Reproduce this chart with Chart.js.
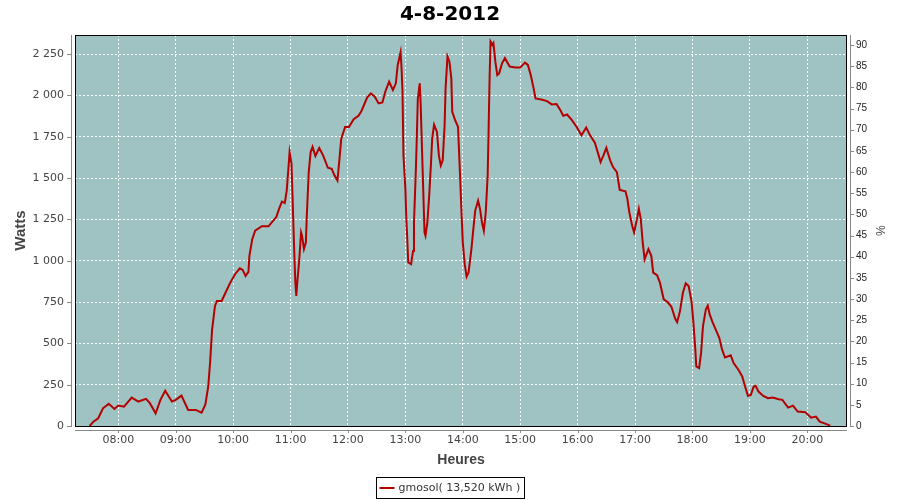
<!DOCTYPE html>
<html>
<head>
<meta charset="utf-8">
<title>4-8-2012</title>
<script src="https://cdn.jsdelivr.net/npm/chart.js@4.4.0/dist/chart.umd.min.js"></script>
<style>
  html, body { margin: 0; padding: 0; background: #fff; }
</style>
</head>
<body>
<canvas id="chart" width="900" height="500"></canvas>
<script>
const chartTitle = '4-8-2012';
const seriesName = 'gmosol( 13,520 kWh )';

// sample times, minutes since midnight
const minutes = [
  450, 454, 459, 464, 470, 476, 480, 486, 494, 501, 509, 513, 519, 524, 529, 536, 540, 546, 553, 561,
  567, 571, 574, 576, 578, 581, 583, 588, 592, 597, 602, 607, 610, 613, 616, 617, 620, 623, 630, 637,
  641, 645, 648, 651, 654, 656, 658, 659, 661, 662, 663, 664, 665, 666, 667, 669, 671, 672, 674, 676,
  677, 679, 681, 683, 686, 690, 694, 699, 703, 706, 709, 711, 713, 717, 721, 726, 731, 734, 740, 744,
  748, 752, 756, 759, 763, 767, 770, 772, 774, 775, 776, 777, 778, 780, 781, 782, 783, 786, 788, 789,
  791, 792, 793, 795, 796, 798, 799, 800, 801, 803, 805, 807, 808, 810, 813, 815, 817, 819, 821, 822,
  824, 826, 828, 829, 832, 835, 837, 839, 840, 842, 844, 846, 849, 851, 853, 856, 858, 860, 862, 864,
  866, 867, 868, 869, 871, 872, 874, 876, 878, 881, 884, 889, 895, 900, 905, 908, 911, 914, 916, 922,
  928, 933, 938, 942, 945, 949, 954, 959, 964, 969, 973, 978, 982, 984, 987, 990, 994, 997, 1001, 1004,
  1010, 1012, 1014, 1017, 1019, 1022, 1024, 1026, 1028, 1030, 1034, 1037, 1039, 1043, 1046, 1050, 1054, 1058, 1062, 1064,
  1067, 1070, 1073, 1076, 1079, 1081, 1083, 1084, 1087, 1089, 1091, 1094, 1096, 1098, 1101, 1104, 1108, 1111, 1114, 1120,
  1123, 1128, 1132, 1135, 1138, 1141, 1144, 1146, 1149, 1154, 1159, 1164, 1170, 1174, 1180, 1185, 1190, 1198, 1204, 1209,
  1213, 1218, 1224
];

const watts = [
  0, 26, 47, 107, 134, 103, 124, 117, 172, 148, 164, 138, 77, 158, 213, 148, 158, 184, 97, 97,
  81, 130, 239, 391, 583, 725, 756, 756, 806, 867, 918, 954, 944, 907, 932, 1029, 1130, 1181, 1208, 1208,
  1236, 1262, 1313, 1357, 1349, 1424, 1576, 1657, 1586, 1404, 1211, 1029, 867, 786, 867, 999, 1171, 1151, 1070, 1110,
  1272, 1536, 1657, 1688, 1633, 1682, 1637, 1562, 1556, 1515, 1485, 1607, 1738, 1809, 1809, 1856, 1876, 1904, 1986, 2012,
  1992, 1951, 1957, 2022, 2083, 2032, 2073, 2184, 2235, 2261, 2164, 2022, 1637, 1434, 1252, 1130, 989, 979, 1059, 1232,
  1556, 1758, 1981, 2073, 1941, 1556, 1363, 1171, 1151, 1232, 1404, 1617, 1738, 1823, 1779, 1637, 1576, 1607, 1819, 2042,
  2235, 2205, 2103, 1900, 1850, 1809, 1536, 1242, 1110, 979, 904, 928, 1070, 1191, 1303, 1363, 1313, 1232, 1181, 1293,
  1515, 1799, 2103, 2326, 2306, 2316, 2205, 2123, 2133, 2194, 2225, 2174, 2168, 2168, 2198, 2184, 2123, 2042, 1981, 1975,
  1965, 1945, 1947, 1910, 1876, 1884, 1850, 1809, 1758, 1805, 1758, 1714, 1637, 1597, 1637, 1682, 1607, 1566, 1536, 1428,
  1420, 1374, 1293, 1211, 1171, 1252, 1313, 1252, 1110, 1009, 1070, 1029, 928, 912, 867, 766, 750, 721, 648, 628,
  695, 806, 863, 847, 756, 624, 462, 360, 350, 442, 604, 705, 729, 675, 628, 588, 533, 462, 414, 427,
  381, 340, 300, 239, 182, 188, 239, 243, 208, 182, 168, 172, 162, 158, 111, 123, 87, 83, 50, 57,
  26, 16, 2
];

// axis ranges
const timeMin = 434.75, timeMax = 1241.5;
const wattsMax = 2365;
const percentMax = 92.37;

const tickFont = { family: 'DejaVu Sans', size: 11 };

function fmtTime(v) {
  const h = Math.floor(v / 60), m = Math.round(v % 60);
  return String(h).padStart(2, '0') + ':' + String(m).padStart(2, '0');
}

function fmtWatts(v) {
  if (v >= 1000) return Math.floor(v / 1000) + ' ' + String(v % 1000).padStart(3, '0');
  return String(v);
}

// plot background, outline and the offset grey axis lines
const plotFrame = {
  id: 'plotFrame',
  beforeDraw(chart) {
    const a = chart.chartArea, ctx = chart.ctx;
    ctx.save();
    ctx.fillStyle = '#9ec3c2';
    ctx.fillRect(a.left, a.top, a.right - a.left, a.bottom - a.top);
    ctx.restore();
  },
  afterDatasetsDraw(chart) {
    const a = chart.chartArea, ctx = chart.ctx;
    ctx.save();
    ctx.strokeStyle = '#000';
    ctx.lineWidth = 1;
    ctx.strokeRect(a.left + 0.5, a.top + 0.5, a.right - a.left - 1, a.bottom - a.top);

    ctx.strokeStyle = '#888';
    ctx.beginPath();
    // left axis
    ctx.moveTo(a.left - 3.5, a.top);
    ctx.lineTo(a.left - 3.5, a.bottom + 1);
    chart.scales.y.ticks.forEach(t => {
      const py = Math.round(chart.scales.y.getPixelForValue(t.value)) + 0.5;
      ctx.moveTo(a.left - 8, py);
      ctx.lineTo(a.left - 3.5, py);
    });
    // bottom axis
    ctx.moveTo(a.left, a.bottom + 4.5);
    ctx.lineTo(a.right, a.bottom + 4.5);
    chart.scales.x.ticks.forEach(t => {
      const px = Math.round(chart.scales.x.getPixelForValue(t.value)) + 0.5;
      ctx.moveTo(px, a.bottom + 4.5);
      ctx.lineTo(px, a.bottom + 7);
    });
    // right axis
    ctx.moveTo(a.right + 3.5, a.top);
    ctx.lineTo(a.right + 3.5, a.bottom + 1);
    chart.scales.pct.ticks.forEach(t => {
      const py = Math.round(chart.scales.pct.getPixelForValue(t.value)) + 0.5;
      ctx.moveTo(a.right + 3.5, py);
      ctx.lineTo(a.right + 7, py);
    });
    ctx.stroke();
    ctx.restore();
  },
  afterDraw(chart) {
    // boxed legend below the axis title
    const ctx = chart.ctx;
    const ds = chart.data.datasets[0];
    ctx.save();
    ctx.font = '11px "DejaVu Sans"';
    const textW = ctx.measureText(ds.label).width;
    const boxW = Math.round(3 + 15 + 4 + textW + 4);
    const boxX = Math.round(chart.width / 2 - boxW / 2) + 0.5;
    const boxY = 477.5, boxH = 21;
    ctx.fillStyle = '#fff';
    ctx.fillRect(boxX, boxY, boxW, boxH);
    ctx.strokeStyle = '#000';
    ctx.lineWidth = 1;
    ctx.strokeRect(boxX, boxY, boxW, boxH);
    ctx.strokeStyle = ds.borderColor;
    ctx.lineWidth = 2;
    ctx.beginPath();
    ctx.moveTo(boxX + 3, boxY + 10.5);
    ctx.lineTo(boxX + 18, boxY + 10.5);
    ctx.stroke();
    ctx.fillStyle = '#333';
    ctx.textBaseline = 'middle';
    ctx.fillText(ds.label, boxX + 22, boxY + 10.5);
    ctx.restore();
  }
};

const points = minutes.map((m, i) => ({ x: m, y: watts[i] }));

const ctx = document.getElementById('chart').getContext('2d');
const chart = new Chart(ctx, {
  type: 'line',
  data: {
    datasets: [{
      label: seriesName,
      data: points,
      borderColor: '#b40000',
      borderWidth: 2,
      pointRadius: 0,
      tension: 0,
      fill: false,
      yAxisID: 'y'
    }]
  },
  options: {
    responsive: false,
    animation: false,
    layout: { padding: { left: 0, right: 0, top: 0, bottom: 30 } },
    plugins: {
      legend: { display: false },
      tooltip: { enabled: false },
      title: {
        display: true,
        text: chartTitle,
        color: '#000',
        font: { family: 'DejaVu Sans', size: 20, weight: 'bold' },
        padding: { top: 3, bottom: 8 }
      }
    },
    scales: {
      x: {
        type: 'linear',
        position: 'bottom',
        min: timeMin,
        max: timeMax,
        afterFit: s => { s.height = 44; },
        grid: { color: '#ffffff', lineWidth: 1, drawTicks: false },
        border: { display: false, dash: [2, 2] },
        ticks: {
          stepSize: 60,
          includeBounds: false,
          autoSkip: false,
          maxRotation: 0,
          padding: 8,
          color: '#444',
          font: tickFont,
          callback: v => fmtTime(v)
        },
        title: {
          display: true,
          text: 'Heures',
          color: '#444',
          font: { family: 'Liberation Sans', size: 14, weight: 'bold' },
          padding: { top: 0, bottom: 1 }
        }
      },
      y: {
        position: 'left',
        min: 0,
        max: wattsMax,
        afterFit: s => { s.width = 75; },
        grid: { color: '#ffffff', lineWidth: 1, drawTicks: false },
        border: { display: false, dash: [2, 2] },
        ticks: {
          stepSize: 250,
          includeBounds: false,
          padding: 11,
          color: '#444',
          font: tickFont,
          callback: v => fmtWatts(v)
        },
        title: {
          display: true,
          text: 'Watts',
          color: '#444',
          font: { family: 'Liberation Sans', size: 15, weight: 'bold' },
          padding: { top: 12, bottom: 0 }
        }
      },
      pct: {
        position: 'right',
        min: 0,
        max: percentMax,
        afterFit: s => { s.width = 53; },
        grid: { display: false, drawTicks: false },
        border: { display: false },
        ticks: {
          stepSize: 5,
          includeBounds: false,
          padding: 9,
          color: '#222',
          font: { family: 'Liberation Sans', size: 10 }
        },
        title: {
          display: true,
          text: '%',
          color: '#444',
          font: { family: 'Liberation Sans', size: 12 },
          padding: { top: 13, bottom: 0 }
        }
      }
    }
  },
  plugins: [plotFrame]
});
</script>
</body>
</html>
